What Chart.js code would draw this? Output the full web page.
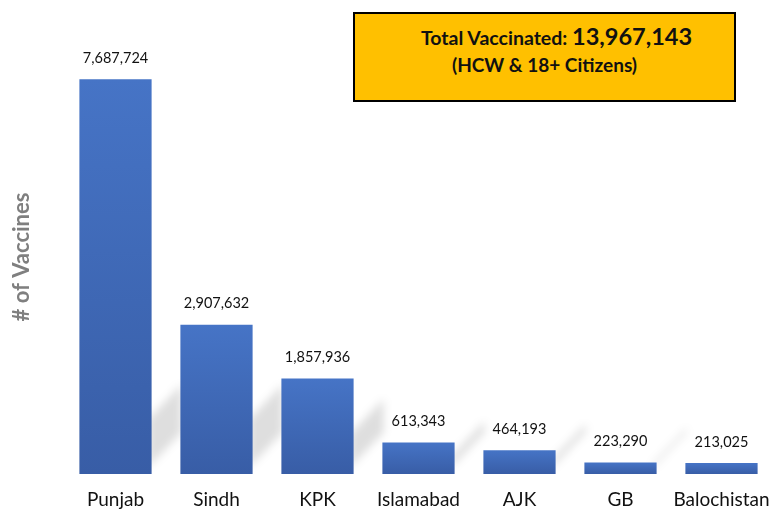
<!DOCTYPE html>
<html>
<head>
<meta charset="utf-8">
<script src="https://cdn.jsdelivr.net/npm/chart.js@4"></script>
<style>
    body { margin: 0; background: #fff; }
    #wrap { position: relative; width: 772px; height: 512px; }
    #totalBox {
        position: absolute;
        left: 353px; top: 12px;
        width: 383px; height: 90px;
        box-sizing: border-box;
        background: #FFC000;
        border: 2px solid #000;
        font-family: Lato, "Open Sans", sans-serif;
        font-weight: bold;
        color: #111;
    }
    #line1 { position: absolute; left: 66px; top: 8px; font-size: 19.5px; white-space: nowrap; }
    #line1 .big { font-size: 23.5px; }
    #line2 { position: absolute; left: 0; right: 0; top: 39px; text-align: center; font-size: 19px; }
</style>
</head>
<body>
<div id="wrap">
    <canvas id="vaccineChart" width="772" height="512"></canvas>
    <div id="totalBox">
        <div id="line1">Total Vaccinated: <span class="big">13,967,143</span></div>
        <div id="line2">(HCW &amp; 18+ Citizens)</div>
    </div>
</div>

<script>

// ------------------------
// Data
// ------------------------

const regions = ["Punjab", "Sindh", "KPK", "Islamabad", "AJK", "GB", "Balochistan"];

const vaccinated = [7687724, 2907632, 1857936, 613343, 464193, 223290, 213025];

const yMax = 8450000;

const FONT = "Lato, 'Open Sans', sans-serif";

// ------------------------
// Bar gradient
// ------------------------

function barGradient(context) {

    const chart = context.chart;
    const yScale = chart.scales.y;

    if (!yScale || context.dataIndex === undefined) {
        return "#4472C4";
    }

    const top = yScale.getPixelForValue(vaccinated[context.dataIndex]);
    const base = yScale.getPixelForValue(0);

    if (!isFinite(top) || !isFinite(base) || top === base) {
        return "#4472C4";
    }

    const g = chart.ctx.createLinearGradient(0, top, 0, base);
    g.addColorStop(0, "#4674C6");
    g.addColorStop(1, "#385DA6");

    return g;
}

// ------------------------
// Soft diagonal shadows behind bars
// ------------------------

const barShadows = {

    id: "barShadows",

    beforeDatasetsDraw(chart) {

        const ctx = chart.ctx;
        const bars = chart.getDatasetMeta(0).data;

        ctx.save();
        ctx.filter = "blur(4px)";
        ctx.fillStyle = "rgba(0, 0, 0, 0.13)";

        bars.forEach((bar, i) => {

            if (i === bars.length - 1) return;

            const right = bar.x + bar.width / 2 - 4;
            const base = bar.base - 6;
            const h = bar.base - bar.y;
            const band = Math.min(48, h * 0.35);
            const run = 34;
            const slope = 1.05;

            ctx.beginPath();
            ctx.moveTo(right, base);
            ctx.lineTo(right + run, base - run * slope);
            ctx.lineTo(right + run, base - run * slope - band);
            ctx.lineTo(right, base - band);
            ctx.closePath();
            ctx.fill();

        });

        ctx.restore();
    }
};

// ------------------------
// Value labels above bars
// ------------------------

const valueLabels = {

    id: "valueLabels",

    afterDatasetsDraw(chart) {

        const ctx = chart.ctx;
        const bars = chart.getDatasetMeta(0).data;

        ctx.save();
        ctx.font = "14.5px " + FONT;
        ctx.fillStyle = "#111";
        ctx.textAlign = "center";
        ctx.textBaseline = "middle";

        bars.forEach((bar, i) => {
            ctx.fillText(vaccinated[i].toLocaleString("en-US"), bar.x, bar.y - 21);
        });

        ctx.restore();
    }
};

// ------------------------
// Chart
// ------------------------

new Chart(document.getElementById("vaccineChart"), {

    type: "bar",

    data: {

        labels: regions,

        datasets: [{

            data: vaccinated,

            backgroundColor: barGradient,

            barPercentage: 0.715,

            categoryPercentage: 1

        }]

    },

    options: {

        responsive: false,
        animation: false,

        layout: {
            padding: { top: 40, right: 0, bottom: 2, left: 0 }
        },

        plugins: {
            legend: { display: false },
            tooltip: { enabled: false }
        },

        scales: {

            x: {
                grid: { display: false, drawTicks: false },
                border: { display: false },
                ticks: {
                    padding: 14,
                    maxRotation: 0,
                    minRotation: 0,
                    autoSkip: false,
                    color: "#111",
                    font: { family: FONT, size: 19 }
                },
                afterFit(scale) {
                    scale.height = 36;
                    scale.paddingLeft = 0;
                    scale.paddingRight = 0;
                }
            },

            y: {
                min: 0,
                max: yMax,
                grid: { display: false, drawTicks: false },
                border: { display: false },
                ticks: { display: false },
                title: {
                    display: true,
                    text: "# of Vaccines",
                    color: "#7f7f7f",
                    padding: { top: 9, bottom: 0 },
                    font: { family: FONT, size: 22, weight: "bold" }
                },
                afterFit(scale) {
                    scale.width = 65;
                }
            }

        }

    },

    plugins: [barShadows, valueLabels]

});

</script>
</body>
</html>
